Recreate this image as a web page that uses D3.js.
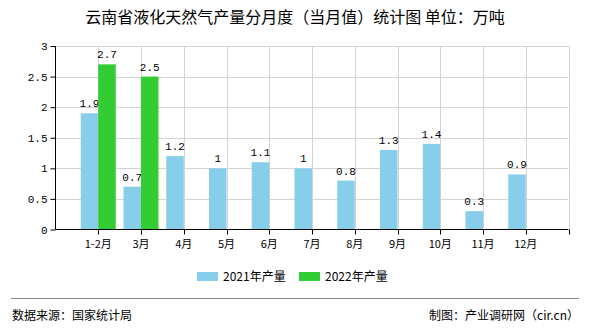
<!DOCTYPE html>
<html>
<head>
<meta charset="utf-8">
<script src="https://cdn.jsdelivr.net/npm/d3@7/dist/d3.min.js"></script>
<style>
  body { margin: 0; background: #fff; }
  svg { display: block; }
</style>
</head>
<body>
<svg id="chart" width="590" height="330"></svg>
<script>
// Monthly LNG output, Yunnan (10k tonnes)
const categories = ["1-2月", "3月", "4月", "5月", "6月", "7月", "8月", "9月", "10月", "11月", "12月"];
const series2021 = [1.9, 0.7, 1.2, 1, 1.1, 1, 0.8, 1.3, 1.4, 0.3, 0.9];
const series2022 = [2.7, 2.5, null, null, null, null, null, null, null, null, null];
const seriesNames = ["2021年产量", "2022年产量"];
const seriesColors = ["#87CEEB", "#32CD32"];
const yTicks = [0, 0.5, 1, 1.5, 2, 2.5, 3];

const svg = d3.select("#chart");
const cjk = "'Noto Sans CJK SC', sans-serif";
const mono = "'Liberation Mono', 'DejaVu Sans Mono', monospace";

const plotLeft = 55.5, plotRight = 568.5, plotTop = 46, plotBottom = 229.5;

// category i sits on tick i; the axis runs one step before the first and one after the last
const x = d3.scaleLinear().domain([-1, categories.length]).range([plotLeft, plotRight]);
const y = d3.scaleLinear().domain([0, 3]).range([plotBottom, plotTop]);
const barW = 17.5;

// title
svg.append("text")
  .attr("x", 295).attr("y", 23)
  .attr("text-anchor", "middle")
  .attr("font-family", cjk).attr("font-size", 16)
  .attr("fill", "#000")
  .text("云南省液化天然气产量分月度（当月值）统计图 单位：万吨");

// horizontal grid
svg.append("g").selectAll("line").data(yTicks.filter(d => d > 0)).join("line")
  .attr("x1", plotLeft).attr("x2", plotRight)
  .attr("y1", d => Math.round(y(d)) + 0.5).attr("y2", d => Math.round(y(d)) + 0.5)
  .attr("stroke", "#d3d3d3").attr("stroke-width", 1);

// vertical grid at each category tick and at the axis end
const vIdx = d3.range(0, categories.length + 1);
svg.append("g").selectAll("line").data(vIdx).join("line")
  .attr("x1", d => Math.round(x(d)) + 0.5).attr("x2", d => Math.round(x(d)) + 0.5)
  .attr("y1", plotTop).attr("y2", plotBottom)
  .attr("stroke", "#d3d3d3").attr("stroke-width", 1);

// bars
const seriesList = [series2021, series2022];
seriesList.forEach((vals, s) => {
  const g = svg.append("g");
  const items = vals.map((v, i) => ({ v, i })).filter(d => d.v != null);
  g.selectAll("rect").data(items).join("rect")
    .attr("x", d => x(d.i) + (s === 0 ? -barW : 0))
    .attr("y", d => y(d.v))
    .attr("width", barW)
    .attr("height", d => plotBottom - y(d.v))
    .attr("fill", seriesColors[s]);
  g.selectAll("text").data(items).join("text")
    .attr("x", d => x(d.i) + (s === 0 ? -barW / 2 : barW / 2))
    .attr("y", d => y(d.v) - 6)
    .attr("text-anchor", "middle")
    .attr("font-family", mono).attr("font-size", 11)
    .attr("fill", "#000")
    .text(d => d.v);
});

// y axis
const yAxis = d3.axisLeft(y).tickValues(yTicks).tickSize(5).tickFormat(d => d);
const gy = svg.append("g").attr("transform", `translate(${plotLeft},0)`).call(yAxis);
gy.select(".domain").attr("stroke", "#000").attr("d", `M0,${plotTop}V${plotBottom}`);
gy.selectAll(".tick line").attr("stroke", "#000");
gy.selectAll(".tick text").attr("font-family", mono).attr("font-size", 11).attr("fill", "#000").attr("x", -8);

// x axis
const gx = svg.append("g").attr("transform", `translate(0,${plotBottom})`);
gx.append("line").attr("x1", plotLeft).attr("x2", plotRight).attr("y1", 0).attr("y2", 0)
  .attr("stroke", "#000").attr("stroke-width", 1.2);
gx.selectAll("line.tk").data(vIdx).join("line").attr("class", "tk")
  .attr("x1", d => Math.round(x(d)) + 0.5).attr("x2", d => Math.round(x(d)) + 0.5)
  .attr("y1", 0).attr("y2", 5).attr("stroke", "#000");
gx.selectAll("text").data(categories).join("text")
  .attr("x", (d, i) => x(i))
  .attr("y", 18)
  .attr("text-anchor", "middle")
  .attr("font-family", cjk).attr("font-size", 11)
  .attr("fill", "#000")
  .text(d => d);

// legend
const legend = svg.append("g");
const legendX = [197, 299];
seriesNames.forEach((name, s) => {
  legend.append("rect").attr("x", legendX[s]).attr("y", 272).attr("width", 21).attr("height", 9)
    .attr("fill", seriesColors[s]);
  legend.append("text").attr("x", legendX[s] + 26).attr("y", 281)
    .attr("font-family", cjk).attr("font-size", 12).attr("fill", "#000").text(name);
});

// footer
svg.append("line").attr("x1", 11).attr("x2", 579).attr("y1", 298.5).attr("y2", 298.5)
  .attr("stroke", "#888").attr("stroke-width", 1);
svg.append("text").attr("x", 12).attr("y", 320)
  .attr("font-family", cjk).attr("font-size", 12).attr("fill", "#000")
  .text("数据来源：国家统计局");
svg.append("text").attr("x", 579).attr("y", 320).attr("text-anchor", "end")
  .attr("font-family", cjk).attr("font-size", 12).attr("fill", "#000")
  .text("制图：产业调研网（cir.cn）");
</script>
</body>
</html>
